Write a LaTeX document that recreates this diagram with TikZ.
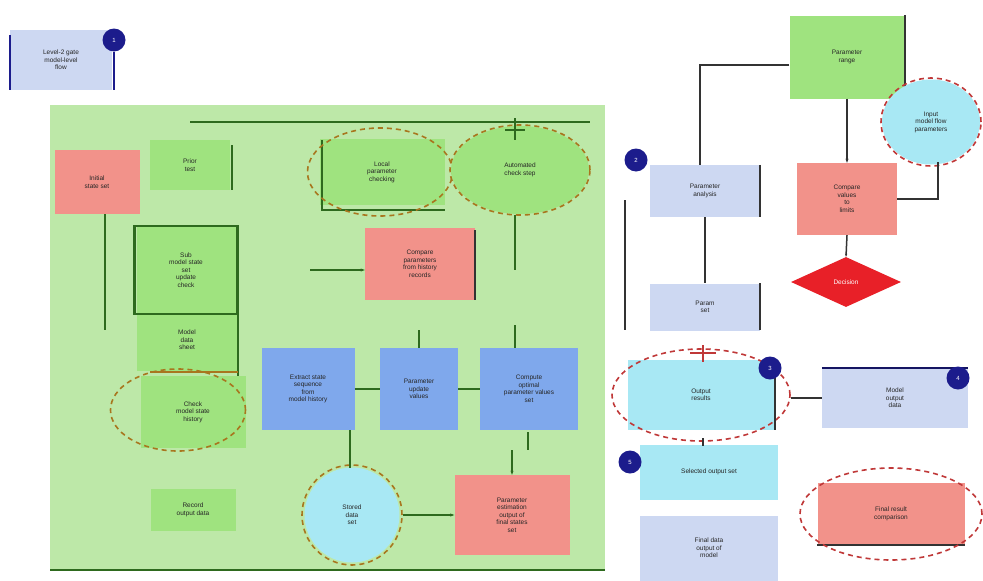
\documentclass[tikz,border=0pt]{standalone}
\usepackage{fontspec}
\setmainfont{Liberation Sans}
\usetikzlibrary{shapes.geometric,arrows.meta}
\definecolor{bgG}{HTML}{BDE8A8}
\definecolor{boxG}{HTML}{9FE37F}
\definecolor{salm}{HTML}{F2928A}
\definecolor{bluB}{HTML}{7FA8EC}
\definecolor{ltB}{HTML}{CDD8F2}
\definecolor{cyanB}{HTML}{A8E8F4}
\definecolor{navy}{HTML}{1C1C8C}
\definecolor{dkG}{HTML}{2E6A1E}
\definecolor{ornD}{HTML}{A8761E}
\definecolor{redD}{HTML}{C03838}
\definecolor{diaR}{HTML}{E82028}
\begin{document}
\begin{tikzpicture}[x=1pt,y=-1pt,
  txt/.style={font=\fontsize{6.5}{7.5}\selectfont,align=center,text=black!85},
  rbox/.style={txt,fill=salm,minimum width=#1},
  gbox/.style={txt,fill=boxG},
  bbox/.style={txt,fill=bluB},
  lbox/.style={txt,fill=ltB},
  cbox/.style={txt,fill=cyanB},
  dov/.style={ellipse,draw=ornD,dash pattern=on 5pt off 4pt,line width=1.6pt},
  drd/.style={ellipse,draw=redD,dash pattern=on 5pt off 4pt,line width=1.6pt},
  con/.style={draw=black!80,line width=1.5pt},
  gcon/.style={draw=dkG,line width=1.4pt},
  badge/.style={circle,fill=navy,minimum size=23pt,inner sep=0pt,font=\fontsize{6}{6}\selectfont,text=white}]
\useasboundingbox (0,0) rectangle (983,581);
\fill[white] (0,0) rectangle (983,581);

% top-left legend
\node[lbox,minimum width=102pt,minimum height=60pt] (leg) at (61,60) {Level-2 gate\\ model-level\\ flow};
\draw[navy,line width=2.5pt] (leg.north west) ++(0,5) -- (leg.south west);
\node[badge] (b1) at (114,40) {1};
\draw[navy,line width=2pt] (b1) -- (b1 |- leg.south);

% big green panel
\fill[bgG] (50,105) rectangle (605,570);
\draw[dkG,line width=2.2pt] (50,570) -- (605,570);
\coordinate (tl) at (190,122);
\coordinate (tr) at (590,122);
\draw[gcon] (tl) -- (tr);

\node[rbox=85pt,minimum height=64pt] (r1) at (97,182) {Initial\\ state set};
\node[gbox,minimum width=80pt,minimum height=50pt] (g1) at (190,165) {Prior\\ test};
\draw[dkG,line width=2.2pt] (232,145) -- (232,190);

\node[gbox,minimum width=100pt,minimum height=145pt] (g2) at (187,298) {};
\node[txt,draw=dkG,line width=2.2pt,minimum width=103pt,minimum height=88pt] (g2a) at (186,270) {Sub\\ model state\\ set\\ update\\ check};
\node[txt] (g2b) at (187,340) {Model\\ data\\ sheet};
\draw[dkG,line width=2.2pt] (238,315) -- (238,392);
\coordinate (r1s) at (105,214);
\draw[gcon] (r1s) -- (105,330);

\node[gbox,minimum width=105pt,minimum height=72pt] (g3) at (193,412) {Check\\ model state\\ history};
\node[dov,minimum width=135pt,minimum height=82pt] (e3) at (178,410) {};
\draw[ornD,line width=1.4pt] (150,372) -- (238,372);

\node[gbox,minimum width=85pt,minimum height=42pt] (g4) at (193,510) {Record\\ output data};

% top middle
\node[gbox,minimum width=125pt,minimum height=66pt] (g5) at (382,172) {Local\\ parameter\\ checking};
\draw[dkG,line width=2.2pt] (322,140) -- (322,210) -- (445,210);
\node[dov,minimum width=145pt,minimum height=88pt] (e5) at (380,172) {};
\node[gbox,ellipse,minimum width=138pt,minimum height=88pt] (e6) at (520,170) {Automated\\ check step};
\node[dov,minimum width=140pt,minimum height=90pt] (e6b) at (520,170) {};
\draw[gcon] (515,118) -- (515,140);
\draw[gcon] (505,130) -- (525,130);

\node[rbox=110pt,minimum height=72pt] (r2) at (420,264) {Compare\\ parameters\\ from history\\ records};
\draw[black!80,line width=2.2pt] (475,230) -- (475,300);
\draw[gcon] (515,215) -- (515,270);
\coordinate (r2in) at (310,270);
\draw[gcon,-{Stealth[length=4pt]}] (r2in) -- (r2.west |- r2in);

\node[bbox,minimum width=93pt,minimum height=82pt] (b1x) at (308,389) {Extract state\\ sequence\\ from\\ model history};
\node[bbox,minimum width=78pt,minimum height=82pt] (b2x) at (419,389) {Parameter\\ update\\ values};
\node[bbox,minimum width=98pt,minimum height=82pt] (b3x) at (529,389) {Compute\\ optimal\\ parameter values\\ set};
\draw[gcon] (b1x) -- (b2x);
\draw[gcon] (b2x) -- (b3x);
\draw[gcon] (515,325) -- (515,348);
\draw[gcon] (419,330) -- (b2x.north);

\node[cbox,circle,minimum size=95pt] (c1) at (352,515) {Stored\\ data\\ set};
\node[dov,circle,minimum size=100pt] (c1b) at (352,515) {};
\draw[gcon] (b1x.south -| 350,0) -- (350,468);

\node[rbox=115pt,minimum height=80pt] (r3) at (512,515) {Parameter\\ estimation\\ output of\\ final states\\ set};
\draw[gcon] (528,432) -- (528,450);
\draw[gcon,-{Stealth[length=4pt]}] (512,450) -- (r3.north);
\draw[gcon,-{Stealth[length=4pt]}] (c1b.east) -- (r3.west);

% right side
\node[gbox,minimum width=115pt,minimum height=83pt] (pg) at (847,57) {Parameter\\ range};
\draw[black!80,line width=1.8pt] (pg.north east) -- (pg.south east);
\node[cbox,ellipse,minimum width=98pt,minimum height=85pt] (ce) at (931,122) {Input\\ model flow\\ parameters};
\node[drd,minimum width=100pt,minimum height=88pt] (ceb) at (931,122) {};

\node[rbox=100pt,minimum height=72pt] (rr) at (847,199) {Compare\\ values\\ to\\ limits};
\draw[con,-{Stealth[length=4pt]}] (pg.south) -- (rr.north);
\draw[con] (rr.east) -- (938,199) -- (938,162);

\node[diamond,fill=diaR,minimum width=110pt,minimum height=50pt,inner sep=0pt,txt,text=white] (dm) at (846,282) {Decision};
\draw[con,-{Stealth[length=3pt]}] (rr.south) -- (dm.north);

\node[lbox,minimum width=110pt,minimum height=52pt] (pb1) at (705,191) {Parameter\\ analysis};
\draw[black!80,line width=1.8pt] (pb1.north east) -- (pb1.south east);
\node[badge] (b2) at (636,160) {2};
\coordinate (kn) at (700,65);
\draw[con] (pg.west |- kn) -- (kn) -- (700,165);
\draw[con] (625,200) -- (625,330);

\node[lbox,minimum width=110pt,minimum height=47pt] (pb2) at (705,307) {Param\\ set};
\draw[black!80,line width=1.8pt] (760,283) -- (760,330);
\draw[con] (pb1.south) -- (pb2.north);

\node[cbox,minimum width=147pt,minimum height=70pt] (cb) at (701,395) {Output\\ results};
\node[drd,minimum width=178pt,minimum height=92pt] (cbe) at (701,395) {};
\draw[black!80,line width=1.8pt] (775,370) -- (775,430);
\draw[redD,line width=1.8pt] (703,345) -- (703,362);
\draw[redD,line width=1.8pt] (690,353) -- (716,353);
\node[badge] (b3) at (770,368) {3};

\node[lbox,minimum width=146pt,minimum height=60pt] (pb3) at (895,398) {Model\\ output\\ data};
\draw[navy!70!black,line width=1.8pt] (pb3.north west) -- (pb3.north east);
\node[badge] (b4) at (958,378) {4};
\draw[con] (cbe.east |- pb3.west) -- (pb3.west);

\node[cbox,minimum width=138pt,minimum height=55pt] (cb2) at (709,472) {Selected output set};
\node[badge] (b5) at (630,462) {5};
\draw[con] (703,438) -- (703,446);

\node[lbox,minimum width=138pt,minimum height=65pt] (pb4) at (709,548) {Final data\\ output of\\ model};

\node[rbox=147pt,minimum height=62pt] (rf) at (891,514) {Final result\\ comparison};
\draw[black!80,line width=1.8pt] (rf.south west) -- (rf.south east);
\node[drd,minimum width=182pt,minimum height=92pt] (rfe) at (891,514) {};
\end{tikzpicture}
\end{document}
